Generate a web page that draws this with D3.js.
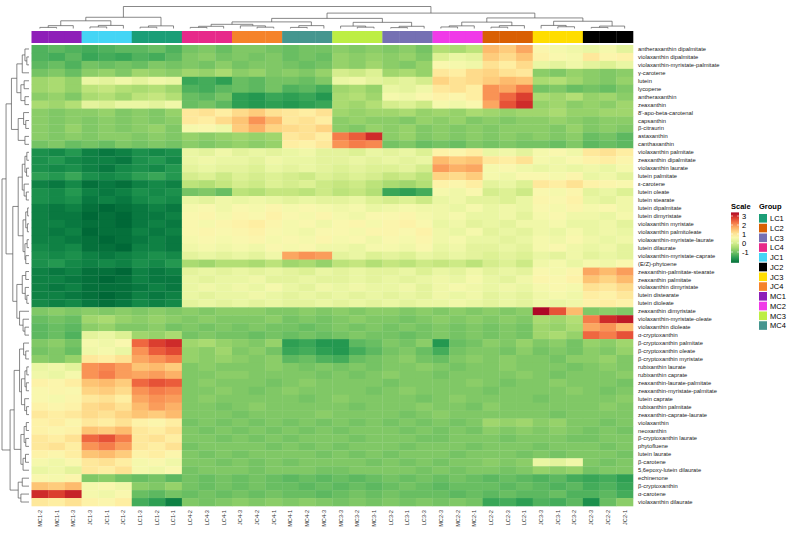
<!DOCTYPE html>
<html><head><meta charset="utf-8">
<script src="https://cdn.jsdelivr.net/npm/d3@7"></script>
<style>
body{margin:0;background:#fff}
text{font-family:"Liberation Sans",Arial,sans-serif}
</style>
</head><body>
<svg id="chart" width="794" height="534"></svg>
<script>
var rowNames = ["antheraxanthin dipalmitate","violaxanthin dipalmitate","violaxanthin-myristate-palmitate","γ-carotene","lutein","lycopene","antheraxanthin","zeaxanthin","8'-apo-beta-carotenal","capsanthin","β-citraurin","astaxanthin","canthaxanthin","violaxanthin palmitate","zeaxanthin dipalmitate","violaxanthin laurate","lutein palmitate","ε-carotene","lutein oleate","lutein stearate","lutein dipalmitate","lutein dimyristate","violaxanthin myristate","violaxanthin palmitoleate","violaxanthin-myristate-laurate","lutein dilaurate","violaxanthin-myristate-caprate","(E/Z)-phytoene","zeaxanthin-palmitate-stearate","zeaxanthin palmitate","violaxanthin dimyristate","lutein distearate","lutein dioleate","zeaxanthin dimyristate","violaxanthin-myristate-oleate","violaxanthin dioleate","α-cryptoxanthin","β-cryptoxanthin palmitate","β-cryptoxanthin oleate","β-cryptoxanthin myristate","rubixanthin laurate","rubixanthin caprate","zeaxanthin-laurate-palmitate","zeaxanthin-myristate-palmitate","lutein caprate","rubixanthin palmitate","zeaxanthin-caprate-laurate","violaxanthin","neoxanthin","β-cryptoxanthin laurate","phytofluene","lutein laurate","β-carotene","5,6epoxy-lutein dilaurate","echinenone","β-cryptoxanthin","α-carotene","violaxanthin dilaurate"];

var colNames = ["MC1-2","MC1-1","MC1-3","JC1-3","JC1-1","JC1-2","LC1-3","LC1-2","LC1-1","LC4-2","LC4-3","LC4-1","JC4-3","JC4-2","JC4-1","MC4-1","MC4-2","MC4-3","MC3-3","MC3-2","MC3-1","LC3-2","LC3-1","LC3-3","MC2-3","MC2-2","MC2-1","LC2-2","LC2-3","LC2-1","JC3-3","JC3-1","JC3-2","JC2-3","JC2-2","JC2-1"];

var groupNames = ["LC1","LC2","LC3","LC4","JC1","JC2","JC3","JC4","MC1","MC2","MC3","MC4"];
var groupColors = ["#1b9e77","#d95f02","#7570b3","#e7298a","#44d5f5","#000000","#ffdd00","#f5832a","#8e1fb8","#f03ae8","#bdee44","#45968f"];

var scaleTicks = [3, 2, 1, 0, -1];

// z-scores, one row per compound, columns in colNames order
var values = [
[-1.3,-1.2,-1.3,-1.4,-1.3,-1.2,-1.2,-1.1,-1.3,-1.0,-0.9,-1.1,-0.9,-0.9,-1.0,-1.1,-1.0,-1.0,-0.8,-0.9,-0.8,-0.9,-0.8,-1.0,-0.4,-0.5,-0.3,1.6,1.4,1.8,0.7,0.5,0.4,0.3,0.5,0.2],
[-1.3,-1.4,-1.2,-1.5,-1.4,-1.5,-1.3,-1.4,-1.2,-0.9,-0.8,-1.0,-0.9,-1.0,-0.9,-1.1,-1.0,-1.1,-0.7,-0.8,-0.7,-0.8,-0.7,-0.9,0.1,0.3,0.2,1.4,1.2,1.5,0.8,0.6,0.5,1.0,0.7,0.8],
[-1.2,-1.1,-1.3,-1.0,-1.1,-1.0,-1.1,-0.9,-1.0,-0.9,-1.0,-0.8,-1.0,-0.9,-0.9,-1.0,-1.1,-1.0,-0.7,-0.8,-0.6,-0.8,-0.9,-0.7,0.6,0.5,0.4,1.1,0.9,1.2,0.3,0.2,0.4,0.2,0.1,0.3],
[-1.0,-0.9,-1.1,-0.8,-0.7,-0.9,-0.6,-0.7,-0.8,-0.6,-0.7,-0.5,-0.8,-0.7,-0.9,-0.8,-0.9,-0.7,0.0,-0.1,0.1,-0.6,-0.5,-0.7,1.0,0.9,1.2,1.3,1.1,1.0,-0.8,-0.9,-0.7,-0.8,-0.9,-0.8],
[-0.6,-0.5,-0.7,0.3,0.2,0.4,0.2,0.4,0.3,-1.5,-1.4,-1.6,-1.1,-1.2,-1.0,-1.0,-1.1,-0.9,0.3,0.4,0.2,0.1,0.2,0.0,1.3,1.1,1.2,1.4,1.6,1.5,-0.5,-0.4,-0.6,-0.8,-0.9,-0.7],
[-0.6,-0.5,-0.7,-0.3,-0.2,-0.4,-0.5,-0.4,-0.6,-1.3,-1.4,-1.2,-1.1,-1.2,-1.0,-1.3,-1.2,-1.4,-0.6,-0.5,-0.7,0.3,0.2,0.4,1.0,1.1,0.9,2.0,1.8,2.2,-1.0,-0.9,-1.1,-1.0,-1.1,-0.9],
[-0.8,-0.7,-0.9,-0.5,-0.4,-0.6,-0.3,-0.2,-0.4,-1.1,-1.2,-1.0,-1.6,-1.7,-1.5,-1.6,-1.5,-1.7,-0.5,-0.4,-0.6,0.5,0.4,0.6,0.8,0.7,0.9,2.0,2.4,2.8,-0.5,-0.6,-0.4,-0.7,-0.6,-0.8],
[-0.5,-0.6,-0.4,0.2,0.1,0.3,0.3,0.2,0.4,-1.1,-1.0,-1.2,-1.6,-1.7,-1.6,-1.7,-1.6,-1.5,-0.5,-0.6,-0.4,0.0,0.1,-0.1,0.5,0.4,0.6,1.8,2.6,3.0,-0.7,-0.6,-0.8,-0.7,-0.8,-0.6],
[-0.8,-0.9,-0.8,-0.8,-0.7,-0.9,-0.8,-0.9,-0.7,1.0,1.1,0.9,1.2,1.4,1.1,1.0,0.9,1.1,-0.6,-0.7,-0.6,-0.6,-0.5,-0.7,-0.6,-0.7,-0.5,-0.6,-0.7,-0.6,-0.6,-0.5,-0.7,-0.7,-0.6,-0.6],
[-0.8,-0.9,-0.8,-0.9,-0.8,-0.9,-0.8,-0.9,-0.8,1.0,0.9,1.2,1.5,2.0,1.6,1.0,1.1,0.9,-0.8,-0.7,-0.8,-0.8,-0.9,-0.7,-0.8,-0.7,-0.9,-0.8,-0.9,-0.8,-0.8,-0.7,-0.8,-0.9,-0.8,-0.8],
[-0.8,-0.9,-0.7,-0.9,-0.8,-0.9,-0.8,-0.7,-0.9,0.5,0.6,0.4,1.4,1.7,1.3,1.2,1.1,1.3,-0.8,-0.9,-0.7,-0.8,-0.7,-0.9,-0.8,-0.9,-0.8,-0.9,-0.8,-0.8,-0.8,-0.9,-0.7,-0.9,-0.8,-0.9],
[-0.8,-0.9,-0.8,-0.9,-0.8,-0.8,-0.9,-0.8,-0.9,-0.7,-0.8,-0.7,-0.6,-0.7,-0.6,1.0,1.1,0.9,2.2,2.5,3.0,-0.8,-0.7,-0.9,-0.8,-0.9,-0.8,-0.9,-0.8,-0.9,-0.8,-0.9,-0.8,-1.1,-1.0,-1.2],
[-1.0,-0.9,-1.1,-1.0,-1.1,-0.9,-1.0,-0.9,-1.0,-0.8,-0.9,-0.8,-0.7,-0.8,-0.7,0.9,0.8,1.0,2.0,2.2,2.1,-1.0,-0.9,-1.1,-1.0,-1.1,-0.9,-1.0,-0.9,-1.0,-1.0,-1.1,-0.9,-1.2,-1.1,-1.2],
[-1.8,-1.9,-1.7,-2.0,-2.1,-2.0,-1.8,-1.9,-1.8,0.3,0.2,0.4,0.2,0.3,0.2,0.3,0.4,0.2,0.2,0.1,0.3,0.2,0.3,0.1,0.8,0.7,0.9,0.3,0.4,0.2,0.5,0.6,0.4,1.0,1.1,0.9],
[-1.8,-1.7,-1.9,-2.0,-2.0,-2.1,-1.8,-1.7,-1.9,0.3,0.4,0.3,0.3,0.2,0.4,0.3,0.3,0.2,0.2,0.3,0.2,0.3,0.2,0.3,1.6,1.4,1.5,1.0,0.9,1.1,0.5,0.4,0.6,0.8,0.9,0.7],
[-1.8,-1.9,-1.8,-2.0,-2.1,-1.9,-1.8,-1.9,-1.7,0.2,0.3,0.2,0.2,0.1,0.3,0.2,0.3,0.2,0.1,0.2,0.1,0.1,0.2,0.0,1.9,1.7,1.8,0.5,0.6,0.4,0.3,0.4,0.3,0.4,0.3,0.5],
[-1.6,-1.7,-1.5,-1.8,-1.9,-1.8,-1.6,-1.5,-1.7,0.0,0.1,-0.1,0.1,0.0,0.1,0.0,-0.1,0.1,0.0,0.1,0.0,-0.2,-0.1,-0.3,1.3,1.2,1.4,0.5,0.4,0.6,0.6,0.5,0.7,0.3,0.4,0.2],
[-2.0,-2.1,-1.9,-2.2,-2.1,-2.2,-2.0,-1.9,-2.0,-0.3,-0.4,-0.2,0.0,-0.1,0.1,0.0,0.1,-0.1,-0.2,-0.1,-0.3,-0.5,-0.6,-0.4,0.8,0.7,0.9,0.2,0.3,0.1,1.0,0.9,1.1,0.8,0.7,0.6],
[-1.8,-1.9,-1.7,-2.0,-2.1,-2.0,-1.8,-1.9,-1.8,-1.0,-0.9,-1.1,-0.3,-0.4,-0.2,-0.2,-0.3,-0.1,-0.3,-0.2,-0.4,-1.5,-1.6,-1.4,0.5,0.4,0.6,0.0,0.1,-0.1,0.6,0.5,0.7,0.2,0.3,0.1],
[-1.8,-1.9,-1.8,-2.1,-2.0,-2.1,-1.9,-1.8,-1.9,0.3,0.2,0.4,0.3,0.4,0.3,0.2,0.3,0.2,0.2,0.3,0.1,0.0,0.1,-0.1,0.3,0.4,0.2,0.2,0.1,0.3,0.7,0.6,0.8,0.3,0.2,0.4],
[-2.0,-2.1,-2.0,-2.2,-2.3,-2.2,-2.1,-2.0,-2.1,0.5,0.6,0.4,0.6,0.5,0.7,0.5,0.6,0.5,0.4,0.5,0.3,0.4,0.5,0.4,0.4,0.3,0.5,0.3,0.4,0.3,0.6,0.5,0.7,0.5,0.6,0.4],
[-2.0,-2.1,-2.1,-2.3,-2.2,-2.3,-2.1,-2.1,-2.0,0.6,0.7,0.5,0.7,0.6,0.8,0.6,0.5,0.7,0.5,0.4,0.6,0.6,0.7,0.5,0.4,0.5,0.3,0.3,0.4,0.2,0.5,0.6,0.4,0.4,0.3,0.5],
[-2.0,-2.0,-2.1,-2.2,-2.2,-2.3,-2.1,-2.0,-2.1,0.6,0.5,0.7,0.8,0.9,0.7,0.5,0.6,0.4,0.6,0.7,0.5,0.7,0.8,0.6,0.3,0.4,0.2,0.3,0.2,0.4,0.4,0.5,0.3,0.3,0.4,0.2],
[-2.0,-2.1,-2.0,-2.3,-2.2,-2.2,-2.0,-2.1,-2.0,0.6,0.7,0.6,0.7,0.8,0.6,0.5,0.4,0.6,0.6,0.5,0.7,0.7,0.6,0.8,0.4,0.3,0.5,0.2,0.3,0.2,0.4,0.3,0.5,0.3,0.4,0.3],
[-2.0,-2.0,-2.1,-2.2,-2.3,-2.2,-2.1,-2.0,-2.1,0.5,0.6,0.5,0.6,0.7,0.5,0.6,0.5,0.7,0.5,0.6,0.4,0.6,0.5,0.7,0.4,0.5,0.3,0.3,0.2,0.3,0.5,0.4,0.6,0.4,0.3,0.4],
[-1.9,-2.0,-1.9,-2.2,-2.2,-2.3,-2.0,-2.0,-2.1,0.4,0.5,0.4,0.5,0.4,0.6,0.5,0.6,0.4,0.4,0.3,0.5,0.5,0.4,0.6,0.3,0.4,0.2,0.2,0.3,0.2,0.5,0.6,0.4,0.3,0.4,0.2],
[-1.8,-1.9,-1.8,-2.0,-2.1,-2.0,-1.9,-1.8,-1.9,0.2,0.3,0.2,0.3,0.2,0.4,1.8,2.0,1.9,0.2,0.3,0.1,0.2,0.1,0.3,0.2,0.3,0.2,0.1,0.2,0.1,0.3,0.2,0.4,0.2,0.3,0.2],
[-1.8,-1.7,-1.9,-2.0,-1.9,-2.0,-1.8,-1.9,-1.7,-0.5,-0.6,-0.4,-0.4,-0.5,-0.3,-0.6,-0.5,-0.7,-0.3,-0.2,-0.4,-0.2,-0.3,-0.1,-0.2,-0.1,-0.3,0.0,0.1,-0.1,0.4,0.5,0.3,0.5,0.4,0.6],
[-2.0,-2.1,-2.0,-2.2,-2.2,-2.3,-2.0,-2.1,-2.0,0.2,0.3,0.2,0.3,0.2,0.3,0.2,0.1,0.3,0.2,0.3,0.2,0.2,0.3,0.1,0.3,0.2,0.4,0.2,0.3,0.2,0.6,0.5,0.7,1.8,1.6,1.9],
[-2.0,-2.0,-2.1,-2.2,-2.3,-2.2,-2.0,-2.1,-2.1,0.3,0.2,0.3,0.3,0.4,0.2,0.2,0.3,0.2,0.2,0.3,0.2,0.3,0.2,0.3,0.4,0.3,0.5,0.3,0.2,0.4,0.7,0.6,0.8,1.5,1.3,1.6],
[-2.0,-2.1,-2.0,-2.2,-2.2,-2.2,-2.1,-2.0,-2.1,0.3,0.4,0.3,0.4,0.3,0.5,0.3,0.2,0.4,0.3,0.4,0.3,0.3,0.4,0.2,0.4,0.5,0.4,0.3,0.4,0.3,0.5,0.6,0.5,1.1,1.0,1.2],
[-2.0,-2.0,-2.1,-2.2,-2.3,-2.2,-2.0,-2.1,-2.0,0.3,0.2,0.3,0.3,0.4,0.3,0.2,0.3,0.2,0.3,0.2,0.3,0.2,0.3,0.2,0.4,0.3,0.4,0.2,0.3,0.2,0.4,0.5,0.4,0.9,0.8,1.0],
[-1.9,-2.0,-1.9,-2.1,-2.2,-2.1,-1.9,-2.0,-1.9,0.2,0.3,0.2,0.3,0.2,0.3,0.2,0.2,0.3,0.2,0.3,0.2,0.3,0.2,0.3,0.3,0.4,0.3,0.2,0.3,0.2,0.4,0.3,0.4,0.8,0.9,0.8],
[-0.9,-0.8,-0.9,-0.8,-0.9,-0.8,-0.9,-0.8,-0.9,-0.8,-0.9,-0.8,-0.8,-0.8,-0.9,-0.9,-0.8,-0.9,-0.8,-0.9,-0.8,-0.8,-0.9,-0.8,-0.9,-0.8,-0.9,-0.8,-0.9,-0.8,3.4,2.6,1.6,-0.9,-0.8,-0.9],
[-1.1,-1.0,-1.1,-0.6,-0.5,-0.7,-0.8,-0.7,-0.8,-0.9,-0.8,-0.9,-0.9,-0.9,-0.8,-1.0,-0.9,-1.0,-0.9,-0.8,-0.9,-0.9,-1.0,-0.9,-0.8,-0.9,-0.8,-0.9,-0.8,-0.9,-0.5,-0.6,-0.4,2.2,3.0,3.2],
[-1.2,-1.1,-1.2,-0.8,-0.7,-0.9,-0.9,-0.8,-1.0,-0.9,-1.0,-0.9,-1.0,-0.9,-1.0,-1.0,-1.1,-1.0,-0.9,-1.0,-0.9,-1.0,-0.9,-1.0,-0.9,-1.0,-0.9,-1.0,-0.9,-1.0,-0.6,-0.7,-0.5,1.8,2.0,1.6],
[-1.2,-1.1,-1.3,0.2,0.3,0.1,-0.6,-0.7,-0.5,-1.0,-0.9,-1.0,-1.0,-1.1,-1.0,-1.1,-1.0,-1.1,-1.0,-0.9,-1.0,-1.0,-1.1,-1.0,-0.9,-1.0,-0.9,-1.0,-0.9,-1.0,-0.6,-0.5,-0.7,2.4,2.2,2.6],
[-0.9,-0.8,-1.0,0.5,0.4,0.6,2.4,2.8,3.0,-0.6,-0.5,-0.7,-0.8,-0.9,-0.7,-1.6,-1.5,-1.7,-1.7,-1.2,-1.1,-0.9,-1.0,-0.8,-1.7,-1.1,-1.0,-0.8,-0.9,-0.7,-0.9,-0.8,-1.0,-0.7,-0.8,-0.6],
[-1.0,-0.9,-1.1,0.4,0.5,0.3,2.0,2.5,2.7,-0.7,-0.8,-0.6,-0.9,-0.8,-1.0,-1.5,-1.4,-1.6,-1.7,-1.4,-1.2,-1.0,-0.9,-1.1,-1.4,-1.0,-0.9,-0.9,-1.0,-0.8,-1.0,-0.9,-1.0,-0.8,-0.9,-0.7],
[-0.8,-0.9,-0.7,1.0,0.9,1.1,1.8,2.0,2.2,-0.7,-0.8,-0.7,-0.8,-0.9,-0.8,-1.2,-1.1,-1.3,-1.4,-1.1,-1.0,-0.9,-0.8,-1.0,-1.1,-0.9,-0.8,-0.9,-0.8,-0.9,-0.9,-1.0,-0.8,-0.8,-0.7,-0.9],
[0.3,0.4,0.2,2.0,2.1,1.9,1.5,1.6,1.4,-0.9,-0.8,-0.9,-0.9,-0.9,-0.8,-0.9,-1.0,-0.9,-1.0,-0.9,-1.0,-0.9,-0.9,-0.8,-0.9,-1.0,-0.9,-0.9,-0.8,-0.9,-0.9,-0.9,-1.0,-0.9,-0.8,-0.9],
[0.4,0.3,0.5,2.0,2.2,1.9,1.8,1.9,1.7,-0.9,-0.9,-0.8,-0.8,-0.9,-0.9,-0.9,-0.9,-1.0,-0.9,-1.0,-0.9,-0.8,-0.9,-0.9,-1.0,-0.9,-0.9,-0.9,-0.9,-0.8,-0.9,-1.0,-0.9,-0.9,-0.9,-0.8],
[0.8,0.7,0.9,1.5,1.6,1.4,2.4,2.6,2.5,-0.9,-0.8,-0.9,-0.9,-0.9,-1.0,-0.9,-0.8,-0.9,-0.9,-0.9,-0.9,-1.0,-0.9,-0.9,-0.9,-0.9,-0.8,-0.9,-1.0,-0.9,-0.9,-0.8,-0.9,-0.9,-0.9,-1.0],
[0.6,0.7,0.6,1.3,1.4,1.2,2.0,2.2,2.1,-0.9,-0.9,-0.8,-0.9,-1.0,-0.9,-0.8,-0.9,-0.9,-0.9,-0.9,-1.0,-0.9,-0.8,-0.9,-0.9,-0.9,-0.9,-1.0,-0.9,-0.9,-0.9,-0.9,-0.8,-0.9,-1.0,-0.9],
[0.6,0.5,0.7,1.0,1.1,0.9,1.8,2.0,1.9,-0.9,-0.8,-0.9,-0.9,-0.9,-0.9,-0.9,-1.0,-0.9,-0.8,-0.9,-0.9,-0.9,-0.9,-1.0,-0.9,-0.8,-0.9,-0.9,-0.9,-0.9,-1.0,-0.9,-0.9,-0.9,-0.9,-0.8],
[0.8,0.7,0.8,1.2,1.3,1.1,1.6,1.9,1.7,-0.9,-0.9,-1.0,-0.9,-0.8,-0.9,-0.9,-0.9,-0.9,-0.9,-1.0,-0.9,-0.9,-0.9,-0.8,-0.9,-0.9,-1.0,-0.8,-0.9,-0.9,-0.9,-0.9,-0.9,-0.9,-0.8,-0.9],
[1.0,0.9,1.0,1.2,1.1,1.3,1.5,1.4,1.6,-0.9,-0.9,-0.9,-1.0,-0.9,-0.9,-0.9,-0.9,-0.8,-0.9,-0.9,-0.9,-0.9,-1.0,-0.9,-0.8,-0.9,-0.9,-0.9,-0.9,-0.9,-0.9,-1.0,-0.9,-0.9,-0.9,-0.9],
[0.8,0.9,0.7,1.0,0.9,1.1,0.8,0.7,0.9,-1.0,-0.9,-1.0,-0.9,-1.0,-0.9,-1.0,-0.9,-1.0,-0.9,-1.0,-0.9,-1.0,-0.9,-1.0,-0.9,-1.0,-0.9,-0.6,-0.7,-0.6,-0.8,-0.7,-0.9,-0.9,-1.0,-0.9],
[0.8,0.7,0.8,1.5,1.4,1.6,1.0,0.9,1.1,-0.9,-1.0,-0.9,-1.0,-0.9,-1.0,-0.9,-1.0,-0.9,-1.0,-0.9,-0.9,-0.9,-1.0,-0.9,-1.0,-0.9,-1.0,-0.8,-0.9,-0.8,-0.9,-0.8,-0.9,-1.0,-0.9,-1.0],
[1.0,0.9,1.1,2.4,2.6,2.2,1.0,1.1,0.9,-0.9,-0.9,-1.0,-0.9,-1.0,-0.9,-1.0,-0.9,-0.9,-0.9,-1.0,-0.9,-0.9,-0.9,-1.0,-1.0,-0.9,-0.9,-0.9,-1.0,-0.9,-0.9,-0.9,-1.0,-1.0,-0.9,-0.9],
[1.0,1.1,0.9,2.0,2.2,1.9,1.0,0.9,1.1,-1.0,-0.9,-0.9,-0.9,-0.9,-1.0,-0.9,-1.0,-0.9,-1.0,-0.9,-0.9,-0.9,-1.0,-0.9,-0.9,-0.9,-1.0,-0.9,-0.9,-0.9,-1.0,-0.9,-0.9,-0.9,-1.0,-0.9],
[0.8,0.7,0.9,1.5,1.6,1.4,0.8,0.9,0.7,-0.9,-1.0,-0.9,-1.0,-0.9,-0.9,-0.9,-0.9,-1.0,-0.9,-1.0,-0.9,-1.0,-0.9,-0.9,-0.9,-1.0,-0.9,-0.9,-0.9,-1.0,-0.9,-1.0,-0.9,-0.9,-0.9,-1.0],
[0.5,0.4,0.6,1.0,1.1,0.9,0.5,0.6,0.4,-0.9,-0.9,-1.0,-0.9,-1.0,-0.9,-1.0,-0.9,-0.9,-0.9,-0.9,-1.0,-0.9,-1.0,-0.9,-1.0,-0.9,-0.9,-0.8,-0.9,-0.8,0.3,0.2,0.4,-0.9,-1.0,-0.9],
[0.3,0.4,0.2,1.0,0.9,1.1,0.5,0.4,0.6,-1.0,-0.9,-0.9,-0.9,-1.0,-0.9,-0.9,-0.9,-1.0,-1.0,-0.9,-0.9,-0.9,-0.9,-1.0,-0.9,-1.0,-0.9,-0.9,-1.0,-0.9,-0.7,-0.8,-0.7,-1.0,-0.9,-0.9],
[0.6,0.5,0.7,-0.9,-0.8,-1.0,-1.1,-1.0,-1.2,-1.0,-1.1,-1.0,-1.1,-1.0,-1.1,-1.2,-1.1,-1.2,-1.1,-1.2,-1.1,-1.0,-1.1,-1.0,-1.1,-1.0,-1.1,-1.2,-1.1,-1.2,-1.3,-1.2,-1.4,-1.5,-1.4,-1.6],
[1.5,1.4,1.6,0.5,0.6,0.4,-0.8,-0.9,-0.7,-1.0,-1.1,-1.0,-1.1,-1.0,-1.1,-1.1,-1.2,-1.1,-1.2,-1.1,-1.2,-1.1,-1.0,-1.1,-1.2,-1.1,-1.1,-1.1,-1.2,-1.1,-1.2,-1.3,-1.2,-1.4,-1.3,-1.5],
[3.0,2.8,3.1,0.5,0.4,0.6,-1.1,-1.2,-1.0,-1.1,-1.0,-1.1,-1.0,-1.1,-1.0,-1.1,-1.1,-1.2,-1.1,-1.0,-1.1,-1.0,-1.1,-1.1,-1.1,-1.2,-1.1,-1.2,-1.1,-1.2,-1.2,-1.1,-1.3,-1.3,-1.2,-1.4],
[1.0,0.9,1.1,0.8,0.7,0.9,-1.4,-1.6,-2.0,-0.9,-1.0,-0.9,-0.8,-0.9,-0.8,-0.9,-0.8,-0.9,-1.0,-0.9,-1.0,-0.9,-1.0,-0.9,-1.0,-0.9,-1.0,-1.5,-1.4,-1.6,-1.3,-1.4,-1.2,-1.8,-1.1,-0.8]
];

// dendrograms: node(height, left, right), leaves are indices
function n(h, a, b) { return {h: h, c: [a, b]}; }

var colTree = n(10,
  n(5.1, n(3.5, n(1.3, n(0.5, 0, 1), 2), n(1.4, n(0.7, 3, 4), 5)), n(1.2, n(0.6, 6, 7), 8)),
  n(7,
    n(4.6,
      n(3, n(1.9, n(1.0, n(0.5, 9, 10), 11), n(1.2, 12, n(0.6, 13, 14))), n(1.3, n(0.5, 15, 16), 17)),
      n(2.8, n(1.1, 18, n(0.6, 19, 20)), n(1.0, n(0.4, 21, 22), 23))),
    n(4.8,
      n(2.9, n(1.2, n(0.7, 24, 25), 26), n(1.3, n(0.6, 27, 28), 29)),
      n(3.3, n(1.4, 30, n(0.8, 31, 32)), n(1.1, n(0.5, 33, 34), 35)))));

var rowTree = n(10,
  n(8.5,
    n(6.5,
      n(4.5, n(2.5, n(1.5, 0, n(0.8, 1, 2)), 3), n(3, n(1.8, 4, 5), n(1.5, 6, 7))),
      n(4, n(2, 8, n(1.2, 9, 10)), n(1.5, 11, 12))),
    n(6,
      n(4,
        n(2.5, n(1.5, n(0.8, 13, 14), n(0.9, 15, 16)), n(1.8, 17, n(1, 18, 19))),
        n(2.2, n(1.2, n(0.5, 20, 21), n(0.6, 22, 23)), n(1.5, n(0.7, 24, 25), n(1.2, 26, 27)))),
      n(4.5,
        n(2.5, n(1.2, 28, 29), n(1.4, 30, n(0.8, 31, 32))),
        n(3.5, 33, n(2.2, 34, n(1.5, 35, 36)))))),
  n(7,
    n(5.5,
      n(3.5, n(2, 37, n(1.2, 38, 39)), n(2.8, n(1.5, n(0.8, 40, 41), n(1, 42, 43)), n(1.6, 44, n(0.9, 45, 46)))),
      n(3, n(1.8, n(1, 47, 48), n(1.2, 49, 50)), n(2.2, n(1.3, 51, 52), 53))),
    n(4, n(2.5, 54, 55), n(3, 56, 57))));

var svg = d3.select("#chart");

var x = d3.scaleBand().domain(d3.range(colNames.length)).range([31.5, 633]);
var y = d3.scaleBand().domain(d3.range(rowNames.length)).range([45, 506]);

var color = d3.scaleSequential(function(t) { return d3.interpolateRdYlGn(1 - t); })
    .domain([-2.3, 3.5]);
var groupColor = d3.scaleOrdinal().domain(groupNames).range(groupColors);

// cells
var rows = svg.append("g").selectAll("g").data(values).enter().append("g");
rows.selectAll("rect")
    .data(function(r, i) { return r.map(function(v, j) { return {i: i, j: j, v: v}; }); })
    .enter().append("rect")
    .attr("x", function(d) { return x(d.j); })
    .attr("y", function(d) { return y(d.i); })
    .attr("width", x.bandwidth() + 0.3)
    .attr("height", y.bandwidth() + 0.3)
    .attr("fill", function(d) { return color(d.v); });

// group annotation bar
svg.append("g").selectAll("rect").data(colNames).enter().append("rect")
    .attr("x", function(d, j) { return x(j); })
    .attr("y", 31)
    .attr("width", x.bandwidth() + 0.3)
    .attr("height", 12)
    .attr("fill", function(d) { return groupColor(d.split("-")[0]); });

// dendrograms
function drawTree(tree, leafPos, hScale, vertical) {
  var g = svg.append("g").attr("fill", "none").attr("stroke", "#555").attr("stroke-width", 0.7);
  function walk(node) {
    if (typeof node === "number") return {p: leafPos(node), h: hScale(0)};
    var a = walk(node.c[0]), b = walk(node.c[1]);
    var hp = hScale(node.h);
    var d = vertical
      ? "M" + a.p + "," + a.h + "V" + hp + "H" + b.p + "V" + b.h
      : "M" + a.h + "," + a.p + "H" + hp + "V" + b.p + "H" + b.h;
    g.append("path").attr("d", d);
    return {p: (a.p + b.p) / 2, h: hp};
  }
  walk(tree);
}
drawTree(colTree, function(j) { return x(j) + x.bandwidth() / 2; },
    d3.scaleLinear().domain([0, 10]).range([28.5, 6.5]), true);
drawTree(rowTree, function(i) { return y(i) + y.bandwidth() / 2; },
    d3.scaleLinear().domain([0, 10]).range([29, 2]), false);

// row labels
svg.append("g").selectAll("text").data(rowNames).enter().append("text")
    .attr("x", 638)
    .attr("y", function(d, i) { return y(i) + y.bandwidth() / 2; })
    .attr("dy", "0.35em")
    .attr("font-size", 5.8)
    .attr("fill", "#222")
    .text(function(d) { return d; });

// column labels
svg.append("g").selectAll("text").data(colNames).enter().append("text")
    .attr("transform", function(d, j) { return "translate(" + (x(j) + x.bandwidth() / 2) + ",510) rotate(-90)"; })
    .attr("dy", "0.35em")
    .attr("text-anchor", "end")
    .attr("font-size", 5.6)
    .attr("fill", "#333")
    .text(function(d) { return d; });

// scale legend
var ly = d3.scaleLinear().domain([3.4, -2.2]).range([212.4, 262.8]);
var grad = svg.append("defs").append("linearGradient").attr("id", "scaleGrad")
    .attr("x1", 0).attr("y1", 1).attr("x2", 0).attr("y2", 0);
grad.selectAll("stop").data(d3.range(0, 1.001, 0.1)).enter().append("stop")
    .attr("offset", function(t) { return t; })
    .attr("stop-color", function(t) { return color(-2.2 + t * 5.6); });
svg.append("rect").attr("x", 731).attr("y", ly(3.4)).attr("width", 8)
    .attr("height", ly(-2.2) - ly(3.4)).attr("fill", "url(#scaleGrad)");
svg.append("text").attr("x", 731).attr("y", 209).attr("font-size", 7.5)
    .attr("font-weight", "bold").text("Scale");
var lt = svg.append("g").selectAll("g").data(scaleTicks).enter().append("g");
lt.append("line").attr("x1", 731).attr("x2", 733).attr("y1", function(d) { return ly(d); })
    .attr("y2", function(d) { return ly(d); }).attr("stroke", "#fff").attr("stroke-width", 0.6);
lt.append("line").attr("x1", 737).attr("x2", 739).attr("y1", function(d) { return ly(d); })
    .attr("y2", function(d) { return ly(d); }).attr("stroke", "#fff").attr("stroke-width", 0.6);
lt.append("text").attr("x", 742).attr("y", function(d) { return ly(d); })
    .attr("dy", "0.35em").attr("font-size", 7.5).text(function(d) { return d; });

// group legend
svg.append("text").attr("x", 759).attr("y", 209).attr("font-size", 7.5)
    .attr("font-weight", "bold").text("Group");
var lg = svg.append("g").selectAll("g").data(groupNames).enter().append("g")
    .attr("transform", function(d, i) { return "translate(759," + (214 + i * 9.75) + ")"; });
lg.append("rect").attr("width", 8).attr("height", 8.6)
    .attr("fill", function(d) { return groupColor(d); });
lg.append("text").attr("x", 11).attr("y", 4.5).attr("dy", "0.35em")
    .attr("font-size", 7.5).text(function(d) { return d; });
</script>
</body></html>
